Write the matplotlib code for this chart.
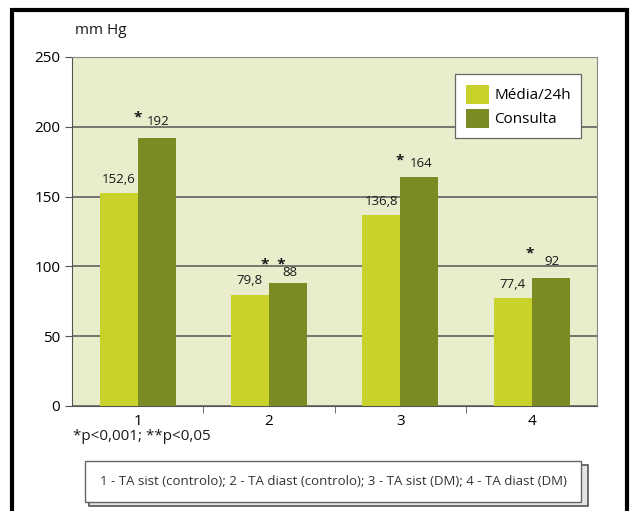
import matplotlib.pyplot as plt
import numpy as np
from matplotlib.patches import Rectangle

categories = ["1", "2", "3", "4"]
media_24h = [152.6, 79.8, 136.8, 77.4]
consulta = [192, 88, 164, 92]
media_labels = ["152,6", "79,8", "136,8", "77,4"]
consulta_labels = ["192", "88", "164", "92"]
stars = ["*", "*  *", "*", "*"]
yticks = [0, 50, 100, 150, 200, 250]

light = "#c8d22a"
dark = "#7b8b23"

plt.rcParams["font.family"] = ["Open Sans", "DejaVu Sans"]

fig = plt.figure(figsize=(6.32, 5.11), dpi=100)
ax = fig.add_axes([0.114, 0.2055, 0.831, 0.683])
ax.set_facecolor("#eaedcb")

x = np.arange(len(categories))
w = 0.29
ax.bar(x - w / 2, media_24h, w, color=light, label="Média/24h", zorder=3)
ax.bar(x + w / 2, consulta, w, color=dark, label="Consulta", zorder=3)

ax.set_xlim(-0.5, 3.5)
ax.set_ylim(0, 250)
ax.set_yticks(yticks)
ax.yaxis.grid(True, color="#555555", lw=1.1, zorder=1)
ax.set_xticks(x)
ax.set_xticklabels(categories, fontsize=11)
ax.set_xticks([0.5, 1.5, 2.5], minor=True)
ax.tick_params(axis="x", which="major", length=0, pad=6)
ax.tick_params(axis="x", which="minor", length=5, color="#555555")
ax.tick_params(axis="y", length=5, color="#555555", labelsize=11)
for s in ["left", "bottom"]:
    ax.spines[s].set_color("#555555")
for s in ["top", "right"]:
    ax.spines[s].set_color("#888888")

# value labels (offsets in points)
lab_off = [12, 7.5, 9.5, 11.5]
star_off = [(-14, 14.5), (-11, 13), (-14, 12), (-15, 17)]
for i in range(len(categories)):
    ax.annotate(media_labels[i], (x[i] - w / 2, media_24h[i]), xytext=(0, 10),
                textcoords="offset points", ha="center", va="center", fontsize=9.5,
                color="#1a1a1a")
    ax.annotate(consulta_labels[i], (x[i] + w / 2, consulta[i]), xytext=(1, lab_off[i]),
                textcoords="offset points", ha="center", va="center", fontsize=9.5,
                color="#1a1a1a")
    ax.annotate(stars[i], (x[i] + w / 2, consulta[i]), xytext=star_off[i],
                textcoords="offset points", ha="center", va="center", fontsize=11,
                fontweight="bold", color="#1a1a1a")

leg = ax.legend(loc="upper right", bbox_to_anchor=(0.97, 0.95), fontsize=11,
                frameon=True, fancybox=False, edgecolor="#666666", framealpha=1,
                handlelength=1.5, handleheight=1.5, borderpad=0.7, labelspacing=0.35,
                handletextpad=0.35, borderaxespad=0)
leg.get_frame().set_linewidth(0.9)

fig.text(0.119, 0.94, "mm Hg", fontsize=11, va="center", color="#1a1a1a")
fig.text(0.116, 0.145, "*p<0,001; **p<0,05", fontsize=11, va="center", color="#1a1a1a")

# bottom caption box with shadow
fig.patches.append(Rectangle((0.141, 0.010), 0.79, 0.08, transform=fig.transFigure,
                             facecolor="#e4e4e4", edgecolor="#555555", lw=1.2))
fig.patches.append(Rectangle((0.134, 0.018), 0.786, 0.08, transform=fig.transFigure,
                             facecolor="white", edgecolor="#666666", lw=1.0))
fig.text(0.527, 0.058, "1 - TA sist (controlo); 2 - TA diast (controlo); 3 - TA sist (DM); 4 - TA diast (DM)",
         fontsize=9.5, ha="center", va="center", color="#333333")

# outer frame
fig.patches.append(Rectangle((0.019, -0.02), 0.973, 1.0, transform=fig.transFigure,
                             facecolor="none", edgecolor="black", lw=3))

fig.savefig("out.png", dpi=100)
